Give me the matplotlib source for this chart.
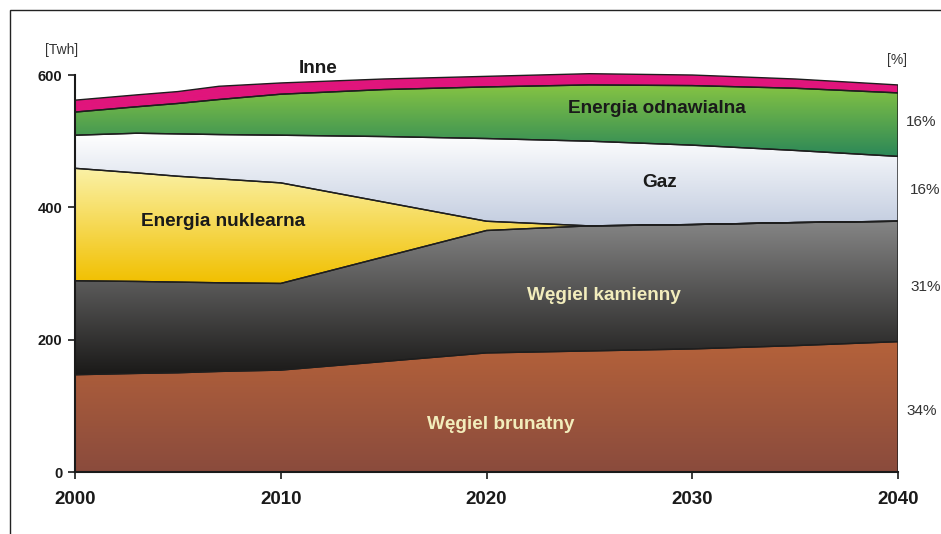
import numpy as np
import matplotlib
matplotlib.use('Agg')
from matplotlib import pyplot as plt
from matplotlib import patches
from matplotlib.colors import LinearSegmentedColormap

plt.rcParams['font.family'] = ['Liberation Sans', 'DejaVu Sans']

# produkcja energii elektrycznej [TWh], wartosci warstw (nie skumulowane)
years   = [2000, 2003, 2005, 2007, 2010, 2015, 2020, 2025, 2030, 2035, 2040]
brown   = [147, 149, 150, 152, 154, 167, 180, 183, 186, 191, 197]
coal    = [142, 139, 137, 134, 131, 158, 185, 189, 188, 186, 182]
nuclear = [170, 164, 160, 157, 152, 83, 14, 0, 0, 0, 0]
gas     = [50, 60, 64, 67, 72, 99, 125, 128, 120, 109, 98]
renew   = [35, 40, 46, 53, 62, 71, 78, 85, 90, 94, 96]
other   = [18, 18, 18, 20, 17, 16, 16, 17, 16, 14, 12]

pct_labels = ['16%', '16%', '31%', '34%']

# gradient (top, bottom) for each layer
grads = [('#b5623a', '#8a4b3d'),
         ('#858585', '#1a1918'),
         ('#fbf2a8', '#f1c000'),
         ('#ffffff', '#c3cde0'),
         ('#86c443', '#2c8858'),
         ('#e0157c', '#e0157c')]

fig = plt.figure(figsize=(9.41, 5.34), dpi=100)
ax = fig.add_axes([75/941, (534-472)/534, 823/941, (472-68.4)/534])

layers = [brown, coal, nuclear, gas, renew, other]
polys = ax.stackplot(years, *layers, edgecolor='#1e1e1e', linewidth=1.0)
cum = np.cumsum(np.array(layers, dtype=float), axis=0)
for i, poly in enumerate(polys):
    top = cum[i]
    bot = cum[i-1] if i > 0 else np.zeros_like(top)
    cmap = LinearSegmentedColormap.from_list('g%d' % i, [grads[i][1], grads[i][0]])
    grad = np.linspace(0, 1, 256).reshape(-1, 1)
    im = ax.imshow(grad, cmap=cmap, origin='lower', aspect='auto',
                   extent=[years[0], years[-1], bot.min(), top.max()], zorder=1)
    im.set_clip_path(poly.get_paths()[0], transform=ax.transData)
    poly.set_facecolor('none')
    poly.set_zorder(2)

ax.set_xlim(2000, 2040)
ax.set_ylim(0, 610)
for s in ['top', 'right']:
    ax.spines[s].set_visible(False)
ax.spines['left'].set_bounds(0, 600)
ax.spines['left'].set_linewidth(1.5)
ax.spines['bottom'].set_linewidth(1.5)
ax.spines['left'].set_color('#1a1a1a')
ax.spines['bottom'].set_color('#1a1a1a')
ax.set_xticks([2000, 2010, 2020, 2030, 2040])
ax.set_yticks([0, 200, 400, 600])
ax.tick_params(axis='x', length=5, width=1.2, labelsize=13.5, pad=9, colors='#1a1a1a')
ax.tick_params(axis='y', length=5, width=1.2, labelsize=10.5, pad=4, colors='#1a1a1a')
for lab in ax.get_xticklabels() + ax.get_yticklabels():
    lab.set_fontweight('bold')

bold = dict(fontweight='bold', ha='center', va='center', fontsize=13.7, color='#1a1a1a')
ax.text(2011.8, 610, 'Inne', **bold)
ax.text(2028.3, 550, 'Energia odnawialna', **bold)
ax.text(2028.4, 438, 'Gaz', **bold)
ax.text(2007.2, 378, 'Energia nuklearna', **bold)
light = dict(bold, color='#f2edbc')
ax.text(2025.7, 267, 'Węgiel kamienny', **light)
ax.text(2020.7, 72, 'Węgiel brunatny', **light)

fig.text(62/941, 1-50/534, '[Twh]', ha='center', va='center', fontsize=10, color='#333333')
fig.text(897/941, 1-60/534, '[%]', ha='center', va='center', fontsize=10, color='#333333')
for lab, px, py in zip(pct_labels, [906, 910, 910, 906], [122, 190, 287, 411]):
    fig.text(px/941, 1-py/534, lab, ha='left', va='center', fontsize=11, color='#333333')

# ramka wokol rysunku
fig.patches.append(patches.Rectangle((10/941, -0.1), 1.2, 1.1 - 10/534, fill=False,
                                     edgecolor='#222222', linewidth=1.0,
                                     transform=fig.transFigure, figure=fig))

fig.savefig('out.png', dpi=100)
